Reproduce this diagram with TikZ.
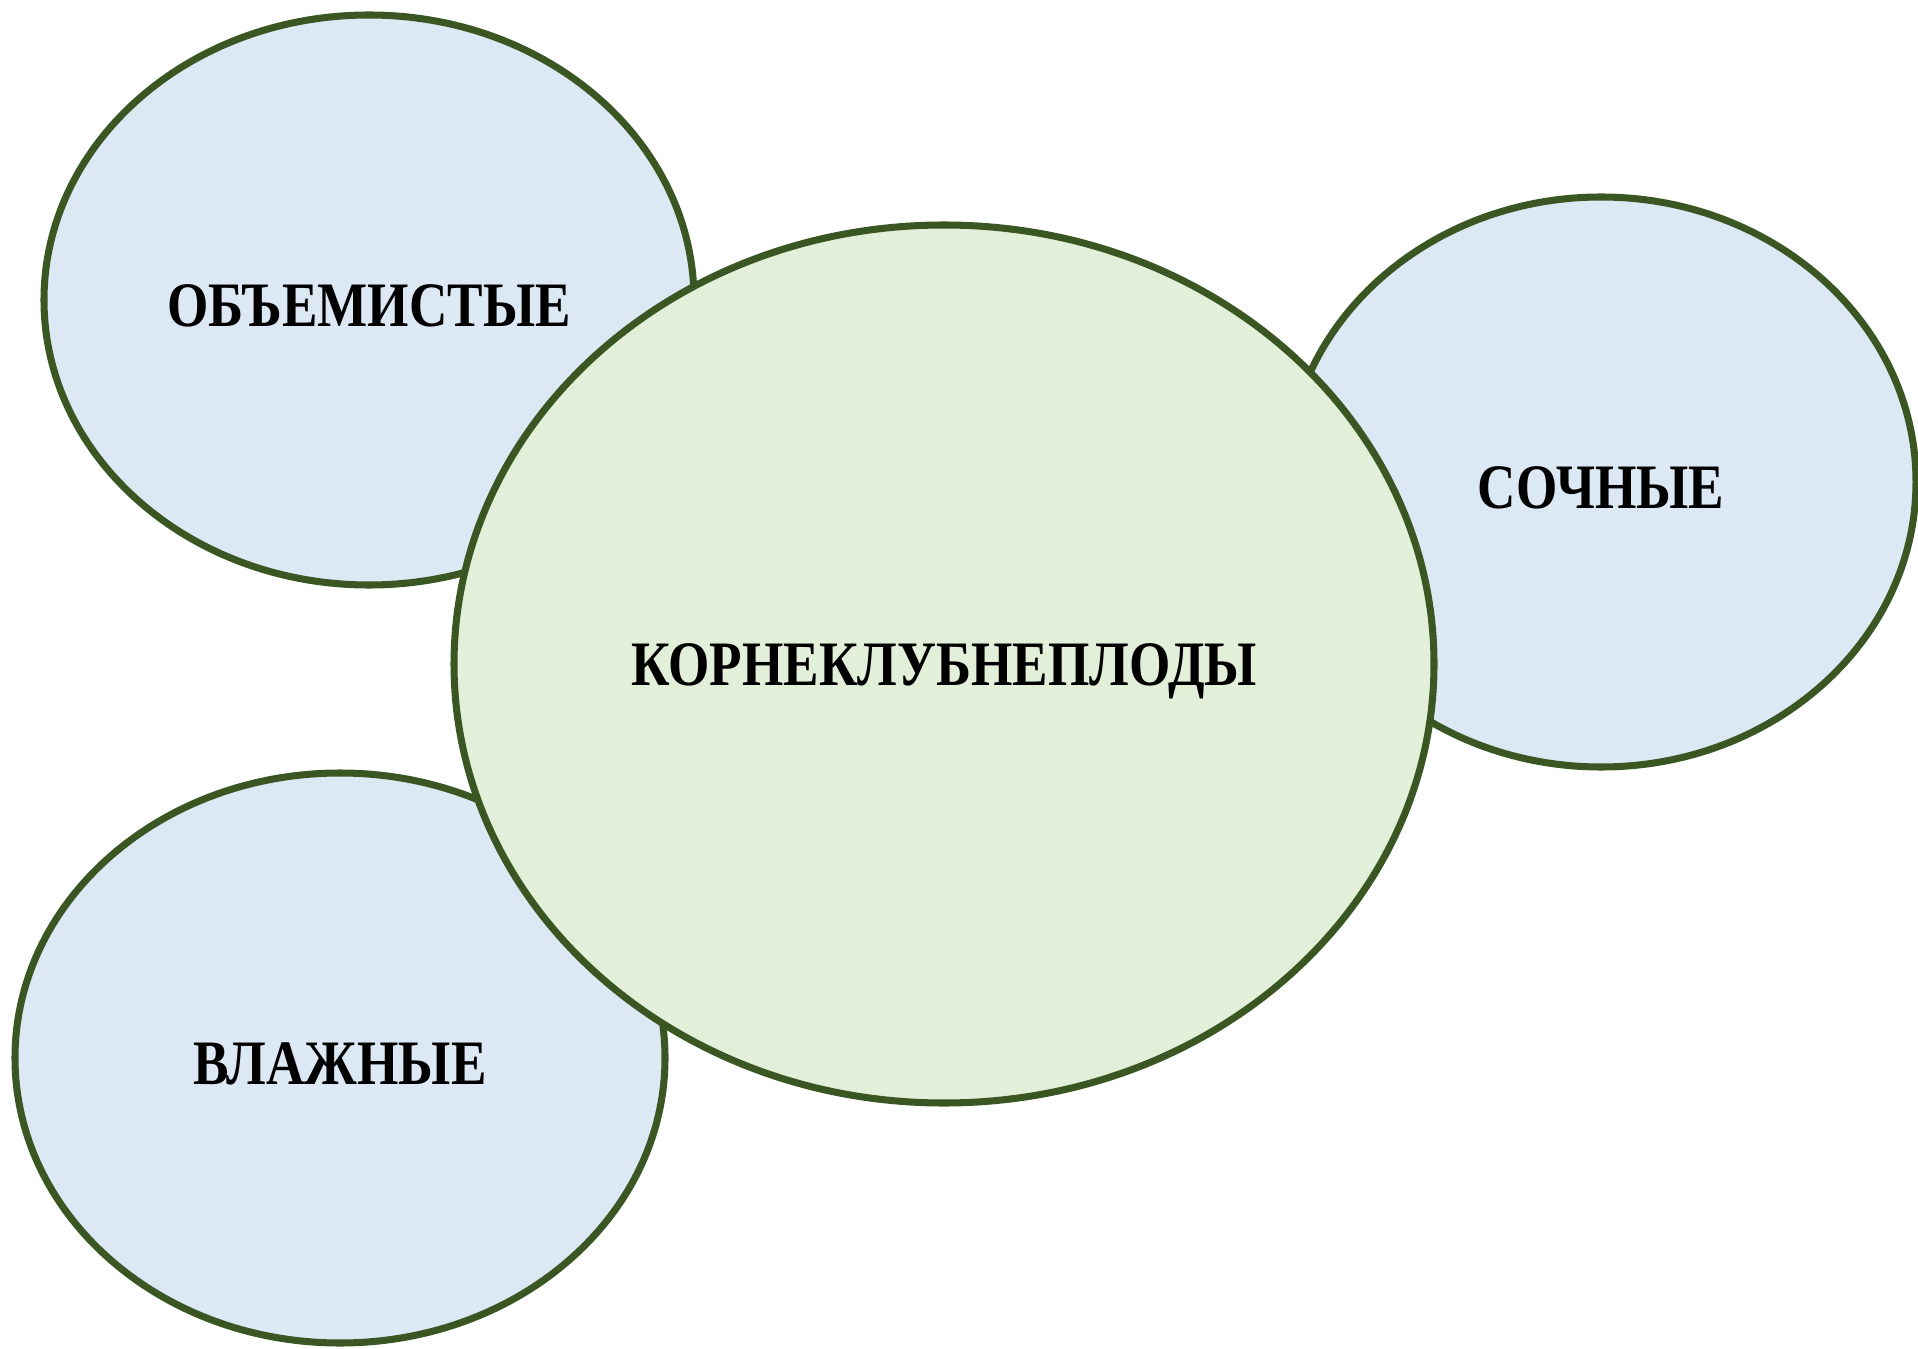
\documentclass[tikz,border=0pt]{standalone}
\usepackage{fontspec}
\setmainfont{Liberation Serif}
\newfontfamily\narrowserif[FakeStretch=0.84]{Liberation Serif}
\definecolor{rimgreen}{RGB}{58,87,35}
\definecolor{sortblue}{RGB}{220,232,244}
\definecolor{rootgreen}{RGB}{226,239,217}
\tikzset{
	sortlabel/.style = {align=center, font=\narrowserif\fontsize{18}{20}\selectfont\bfseries},
}
\begin{document}
\begin{tikzpicture}[x=0.01cm, y=-0.01cm, line width=2pt]
	\useasboundingbox (0,0) rectangle (1918,1349);
	\begin{scope}[draw=rimgreen, fill=sortblue]
	\filldraw (369,300)  ellipse [x radius=325, y radius=285];
	\filldraw (1601,482) ellipse [x radius=315, y radius=285];
	\filldraw (340,1058) ellipse [x radius=325, y radius=285];
	\end{scope}
	\filldraw[draw=rimgreen, fill=rootgreen] (944,664) ellipse [x radius=490, y radius=439];
	\node (bulky) at (369,306) [sortlabel] {%
		ОБЪЕМИСТЫЕ%
	};
	\node (juicy) at (1601,488) [sortlabel] {%
		СОЧНЫЕ%
	};
	\node (moist) at (340,1064) [sortlabel] {%
		ВЛАЖНЫЕ%
	};
	\node (roots) at (944,671) [sortlabel] {%
		КОРНЕКЛУБНЕПЛОДЫ%
	};
\end{tikzpicture}
\end{document}
